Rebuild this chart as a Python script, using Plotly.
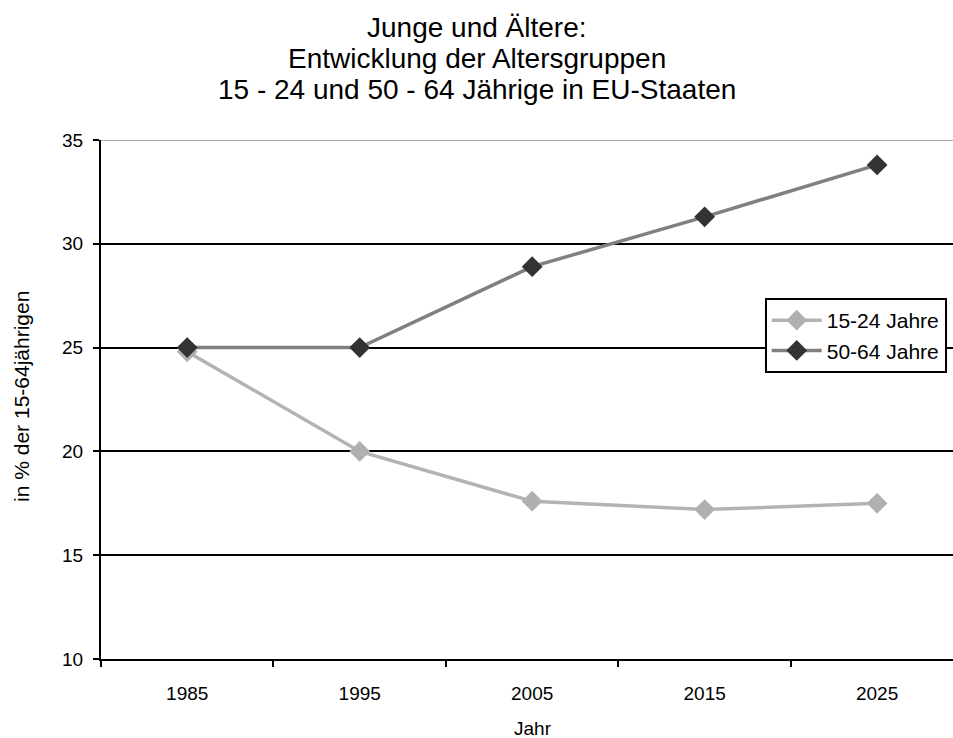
import plotly.graph_objects as go

years = ["1985", "1995", "2005", "2015", "2025"]
young = [24.8, 20.0, 17.6, 17.2, 17.5]
older = [25.0, 25.0, 28.9, 31.3, 33.8]
y_ticks = [10, 15, 20, 25, 30, 35]
title_lines = ["Junge und Ältere:", "Entwicklung der Altersgruppen",
               "15 - 24 und 50 - 64 Jährige in EU-Staaten"]

FONT = "Liberation Sans, Arial, sans-serif"

fig = go.Figure()
fig.add_trace(go.Scatter(
    x=years, y=young, name="15-24 Jahre", mode="lines+markers",
    line=dict(color="#b3b3b3", width=3.5),
    marker=dict(symbol="diamond", size=16, color="#b0b0b0"),
    legendgroup="a",
))
fig.add_trace(go.Scatter(
    x=years, y=older, name="50-64 Jahre", mode="lines+markers",
    line=dict(color="#808080", width=3.5),
    marker=dict(symbol="diamond", size=16, color="#333333"),
    legendgroup="b",
))

annotations = []
for i, t in enumerate(title_lines):
    annotations.append(dict(
        text=t, xref="paper", yref="paper", x=0.441, y=1.2158 - i * 0.0597,
        xanchor="center", yanchor="middle", showarrow=False,
        font=dict(family=FONT, size=28, color="black"),
    ))
annotations.append(dict(
    text="Jahr", xref="paper", yref="paper", x=0.507, y=-0.133,
    xanchor="center", yanchor="middle", showarrow=False,
    font=dict(family=FONT, size=19, color="black"),
))
annotations.append(dict(
    text="in % der 15-64jährigen", xref="paper", yref="paper", x=-0.0927, y=0.505,
    xanchor="center", yanchor="middle", showarrow=False, textangle=-90,
    font=dict(family=FONT, size=21, color="black"),
))

fig.update_layout(
    width=953, height=738,
    margin=dict(l=101, r=0, t=140, b=79),
    paper_bgcolor="white", plot_bgcolor="white",
    font=dict(family=FONT, size=19, color="black"),
    showlegend=True,
    annotations=annotations,
    shapes=[dict(type="line", xref="paper", yref="y", x0=0, x1=1,
                 y0=y_ticks[-1], y1=y_ticks[-1],
                 line=dict(color="#8a8a8a", width=1.5), layer="below")],
    legend=dict(
        x=0.779, y=0.6956, xanchor="left", yanchor="top",
        bordercolor="black", borderwidth=2, bgcolor="white",
        font=dict(family=FONT, size=21, color="black"),
        traceorder="grouped", tracegroupgap=0,
        itemwidth=50,
    ),
)

fig.update_xaxes(
    type="category", range=[-0.5, 4.44],
    showline=True, linecolor="black", linewidth=2,
    ticks="outside", tickson="boundaries", ticklen=6, tickcolor="black", tickwidth=2,
    showgrid=False, zeroline=False,
    tickfont=dict(family=FONT, size=19),
    ticklabelstandoff=16,
)
fig.update_yaxes(
    range=[10, 35], tickvals=y_ticks,
    showline=True, linecolor="black", linewidth=2,
    ticks="outside", ticklen=6, tickcolor="black", tickwidth=2,
    showgrid=True, gridcolor="black", gridwidth=1.5, zeroline=False,
    tickfont=dict(family=FONT, size=19),
    ticklabelstandoff=6,
)

fig.write_html(
    "out.html",
    config={"displayModeBar": False},
    post_script="document.body.style.margin='0';document.body.style.overflow='hidden';",
)
